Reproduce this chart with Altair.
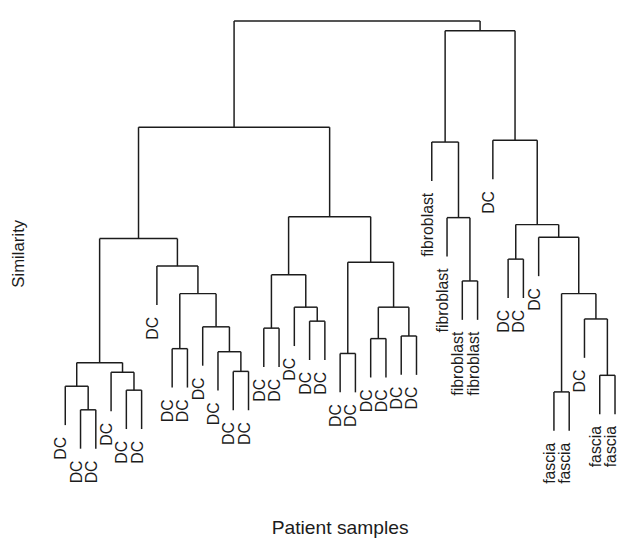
import altair as alt
import pandas as pd

# Leaves in plotted order (left to right)
leaf_labels = [
    "DC", "DC", "DC", "DC", "DC", "DC", "DC", "DC", "DC", "DC", "DC", "DC",
    "DC", "DC", "DC", "DC", "DC", "DC", "DC", "DC", "DC", "DC", "DC", "DC",
    "fibroblast", "fibroblast", "fibroblast", "fibroblast",
    "DC", "DC", "DC", "DC",
    "fascia", "fascia", "DC", "fascia", "fascia",
]

# hclust-style merge table: negative = leaf number, positive = earlier merge row
merge_left = [-2, -5, -1, -4, -12, 3, -11, -8, -10, 8, -7, 6,
              -14, -17, -16, 13, -19, -21, -23, 18, 17, 16, 12,
              -27, -26, -25, -30, -33, -36, -35, 28, -32, 27, -29, 26, 23]
merge_right = [-3, -6, 1, 2, -13, 4, 5, -9, 7, 9, 10, 11,
               -15, -18, 14, 15, -20, -22, -24, 19, 20, 21, 22,
               -28, 24, 25, -31, -34, -37, 29, 30, 31, 32, 33, 34, 35]
merge_height = [0.110, 0.155, 0.164, 0.196, 0.198, 0.218, 0.243, 0.250, 0.300, 0.376, 0.439, 0.502,
                0.297, 0.313, 0.345, 0.419, 0.239, 0.273, 0.279, 0.345, 0.448, 0.552, 0.757,
                0.405, 0.550, 0.723, 0.455, 0.151, 0.189, 0.318, 0.376, 0.505, 0.534, 0.727, 0.978, 1.000]

hang = 0.1 * (max(merge_height) - min(merge_height))

node_x, node_h = {}, {}
segments = []
leaf_end = {}


def child_pos(c, h_parent):
    if c < 0:
        return float(-c), h_parent - hang, True
    return node_x[c], node_h[c], False


for k, (a, b, h) in enumerate(zip(merge_left, merge_right, merge_height), start=1):
    xa, ha, la = child_pos(a, h)
    xb, hb, lb = child_pos(b, h)
    segments.append(dict(x=xa, x2=xa, y=ha, y2=h))
    segments.append(dict(x=xb, x2=xb, y=hb, y2=h))
    segments.append(dict(x=xa, x2=xb, y=h, y2=h))
    node_x[k] = (xa + xb) / 2
    node_h[k] = h
    if la:
        leaf_end[-a] = ha
    if lb:
        leaf_end[-b] = hb

seg_df = pd.DataFrame(segments)
lab_df = pd.DataFrame({
    "x": [float(i) for i in range(1, len(leaf_labels) + 1)],
    "y": [leaf_end[i] for i in range(1, len(leaf_labels) + 1)],
    "label": leaf_labels,
})

W, H = 617, 534
FONT = "Liberation Sans"
INK = "#1c1c1c"

xs = alt.Scale(domain=[-2.75, 37.13], nice=False, zero=False)
ys = alt.Scale(domain=[-0.1847, 1.022], nice=False, zero=False)

x_axis = alt.Axis(title="Patient samples", labels=False, ticks=False, domain=False, grid=False,
                  titleFont=FONT, titleFontSize=19.5, titleFontWeight="normal", titleColor=INK,
                  titleX=336, titleY=-5, titleBaseline="alphabetic", titleAlign="center")
y_axis = alt.Axis(title="Similarity", labels=False, ticks=False, domain=False, grid=False,
                  titleFont=FONT, titleFontSize=17, titleFontWeight="normal", titleColor=INK,
                  titleX=11, titleY=245, titleAngle=270, titleBaseline="middle", titleAlign="center")

lines = alt.Chart(seg_df).mark_rule(color=INK, strokeWidth=1.5).encode(
    x=alt.X("x:Q", scale=xs, axis=x_axis),
    x2="x2:Q",
    y=alt.Y("y:Q", scale=ys, axis=y_axis),
    y2="y2:Q",
)

labels = alt.Chart(lab_df).mark_text(
    angle=270, align="right", baseline="middle", dx=-12, dy=-4,
    font=FONT, fontSize=16, color=INK,
).encode(
    x=alt.X("x:Q", scale=xs),
    y=alt.Y("y:Q", scale=ys),
    text="label:N",
)

chart = alt.layer(lines, labels).properties(
    width=W, height=H,
    autosize=alt.AutoSizeParams(type="none"),
    padding=0,
).configure_view(stroke=None)

chart.save("out.html", embed_options={"renderer": "svg", "actions": False})
